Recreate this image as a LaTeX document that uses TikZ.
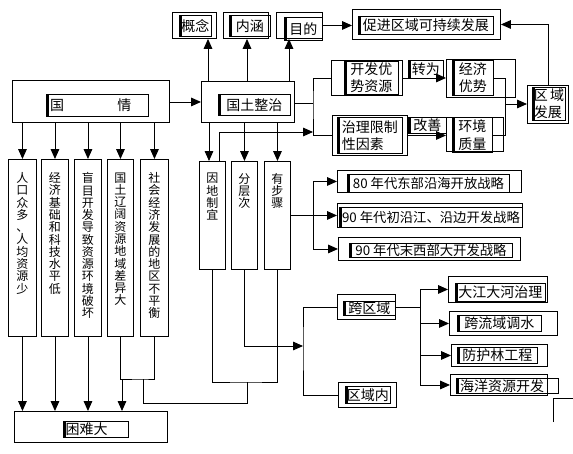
\documentclass[tikz,border=0pt]{standalone}
\usepackage{fontspec}
\setmainfont{Noto Sans CJK SC}
\usetikzlibrary{arrows.meta}
\tikzset{
>={Triangle[length=7.5pt,width=6.5pt]},
freccia/.style={->,line width=0.7pt},
linea/.style={line width=0.7pt},
sz/.style 2 args={minimum width=#1*0.75pt,minimum height=#2*0.75pt},
outer box/.style={draw,line width=0.7pt,inner sep=0pt,anchor=north west},
text box/.style={draw,line width=0.7pt,inner sep=0pt,anchor=north west,align=center,
  font=\fontsize{10.5}{13}\selectfont,
  path picture={\fill (path picture bounding box.north west) rectangle
    ([xshift=1.8pt]path picture bounding box.south west);}},
vert text/.style={align=center,inner sep=0pt,anchor=north,
  font=\fontsize{9}{9.2}\selectfont}}

\begin{document}
\begin{tikzpicture}[x=0.75pt,y=-0.75pt]
\useasboundingbox (0,0) rectangle (573,453);

      \node[outer box,sz={157}{42}] (gq) at (12,80) {};
      \node[text box,sz={102}{22}] (gqt) at (46,94) {国\hspace{40pt}情\hspace{10pt}};
      \node[outer box,sz={93}{41}] (gtzz) at (201,81) {};
      \node[text box,sz={72}{21}] (gtzzt) at (218,94) {国土整治};

      \node[outer box,sz={44}{26}] (gn) at (172,12) {};
      \node[text box,sz={32}{21}] (gnt) at (179,15) {概念};
      \node[outer box,sz={45}{26}] (nh) at (223,12) {};
      \node[text box,sz={41}{21}] (nht) at (229,15) {内涵};
      \node[outer box,sz={46}{26}] (md) at (276,12) {};
      \node[text box,sz={38}{23}] (mdt) at (284,17) {目的};
      \node[outer box,sz={148}{30}] (cj) at (352,9) {};
      \node[text box,sz={135}{18}] (cjt) at (358,16) {促进区域可持续发展};

      \node[outer box,sz={71}{35}] (kf) at (331,60) {};
      \node[text box,sz={54}{33},align=left] (kft) at (344,61) {开发优\\势资源};
      \node[text box,sz={35}{18}] (zw) at (408,60) {转为};
      \node[outer box,sz={69}{38}] (jj) at (446,59) {};
      \node[text box,sz={41}{35},align=left] (jjt) at (452,60) {经济\\优势};
      \node[outer box,sz={75}{40}] (zl) at (332,115) {};
      \node[text box,sz={65}{36},align=left] (zlt) at (337,117) {治理限制\\性因素};
      \node[text box,sz={38}{16}] (gs) at (408,117) {改善};
      \node[outer box,sz={57}{34}] (hj) at (446,117) {};
      \node[text box,sz={40}{35},align=left] (hjt) at (452,117) {环境\\质量};
      \node[outer box,sz={41}{38}] (qy) at (527,85) {};
      \node[text box,sz={33}{33},align=left] (qyt) at (532,87) {区\,域\\发展};

      \node[outer box,sz={28}{177}] (yy1) at (8,159) {};
      \node[outer box,sz={27}{177}] (yy2) at (41,159) {};
      \node[outer box,sz={27}{177}] (yy3) at (74,159) {};
      \node[outer box,sz={26}{177}] (yy4) at (107,159) {};
      \node[outer box,sz={28}{177}] (yy5) at (140,159) {};
      \node[vert text] (yy1t) at ([yshift=-10pt]yy1.north) {人\\口\\众\\多\\、\\人\\均\\资\\源\\少};
      \node[vert text] (yy2t) at ([yshift=-10pt]yy2.north) {经\\济\\基\\础\\和\\科\\技\\水\\平\\低};
      \node[vert text] (yy3t) at ([yshift=-10pt]yy3.north) {盲\\目\\开\\发\\导\\致\\资\\源\\环\\境\\破\\坏};
      \node[vert text] (yy4t) at ([yshift=-10pt]yy4.north) {国\\土\\辽\\阔\\资\\源\\地\\域\\差\\异\\大};
      \node[vert text] (yy5t) at ([yshift=-10pt]yy5.north) {社\\会\\经\\济\\发\\展\\的\\地\\区\\不\\平\\衡};

      \node[outer box,sz={153}{31}] (kn) at (14,411) {};
      \node[text box,sz={65}{16}] (knt) at (63,421) {困难大\hspace{14pt}};

      \node[outer box,sz={26}{108}] (ydzy) at (199,161) {};
      \node[outer box,sz={26}{108}] (fcc) at (231,161) {};
      \node[outer box,sz={26}{108}] (ybz) at (264,161) {};
      \node[vert text] (ydzyt) at ([yshift=-9pt]ydzy.north) {因\\地\\制\\宜};
      \node[vert text] (fcct) at ([yshift=-9pt]fcc.north) {分\\层\\次};
      \node[vert text] (ybzt) at ([yshift=-9pt]ybz.north) {有\\步\\骤};

      \node[outer box,sz={184}{22}] (s80) at (337,170) {};
      \node[text box,sz={162}{18},font=\fontsize{10}{12}\selectfont] (s80t) at (347,174) {80 年代东部沿海开放战略};
      \node[outer box,sz={185}{24}] (s90a) at (337,203) {};
      \node[text box,sz={183}{20},font=\fontsize{10}{12}\selectfont] (s90at) at (339,207) {90 年代初沿江、沿边开发战略};
      \node[outer box,sz={182}{23}] (s90b) at (338,237) {};
      \node[text box,sz={163}{14},font=\fontsize{10}{12}\selectfont] (s90bt) at (349,243) {90 年代末西部大开发战略};

      \node[outer box,sz={58}{25}] (kqy) at (337,294) {};
      \node[text box,sz={52}{14}] (kqyt) at (343,301) {跨区域};
      \node[outer box,sz={58}{25}] (qyn) at (338,382) {};
      \node[text box,sz={45}{17}] (qynt) at (345,386) {区域内};

      \node[outer box,sz={99}{26}] (dj) at (448,276) {};
      \node[text box,sz={90}{18}] (djt) at (455,283) {大江大河治理};
      \node[outer box,sz={108}{24}] (kly) at (449,311) {};
      \node[text box,sz={84}{16}] (klyt) at (457,315) {跨流域调水};
      \node[outer box,sz={96}{22}] (fhl) at (451,344) {};
      \node[text box,sz={80}{16}] (fhlt) at (457,347) {防护林工程};
      \node[outer box,sz={97}{21}] (hy) at (450,374) {};
      \node[text box,sz={102}{15}] (hyt) at (456,378) {海洋资源开发\hspace{8pt}};

      \coordinate (u1) at (208,0);
      \coordinate (u2) at (247,0);
      \coordinate (u3) at (289,0);
      \coordinate (d1) at (209,0);
      \coordinate (u4) at (219,132);
      \coordinate (b1) at (313,103);
      \coordinate (b2) at (313,132);
      \coordinate (b3) at (303,346);
      \coordinate (b4) at (420,307);
      \coordinate (b5) at (505,104);
      \coordinate (b6) at (313,215);
      \coordinate (j1) at (122,379);
      \coordinate (j2) at (143,379);
      \coordinate (j3) at (247,382);

      \draw[freccia] (gq.east |- gtzz) -- (gtzz.west);
      \foreach \n in {yy1,yy2,yy3,yy4,yy5}
        \draw[freccia] (gq.south -| \n) -- (\n.north);
      \foreach \n in {yy1,yy2,yy3}
        \draw[freccia] (\n.south) -- (kn.north -| \n);
      \draw[linea] (yy4.south) |- (j2) -| (yy5.south);
      \draw[freccia] (j1) -- (kn.north -| j1);
      \draw[linea] (j2) -- ++(0,24) -| (j3);
      \draw[linea] (ydzy.south) |- (j3) -| (ybz.south);

      \foreach \c/\n in {u1/gn,u2/nh,u3/md}
        \draw[freccia] (gtzz.north -| \c) -- (\n.south -| \c);
      \draw[freccia] (md.east) -- (cj.west |- md.east);
      \draw[freccia] (qy.north) |- (cj.east);

      \draw[linea] (gtzz.east |- b1) -- (b1);
      \draw[linea] (kf.west) -| (b1) |- (zl.west);
      \draw[freccia] (ydzy.north -| u4) -- (u4) -- (b2);
      \draw[freccia] (gtzz.south -| d1) -- (ydzy.north -| d1);
      \draw[freccia] (gtzz.south -| fcc) -- (fcc.north);
      \draw[freccia] (gtzz.south -| ybz) -- (ybz.north);

      \draw[freccia] (kf.east) -- (jj.west |- kf.east);
      \draw[freccia] (zl.east) -- (hj.west |- zl.east);
      \draw[linea] (jjt.east) -| (b5) |- (hjt.east);
      \draw[freccia] (b5) -- (qy.west |- b5);

      \draw[linea] (ybz.east |- b6) -- (b6);
      \foreach \n in {s80,s90a,s90b}
        \draw[freccia] (b6) |- (\n.west);

      \draw[freccia] (fcc.south) |- (b3);
      \draw[linea] (kqy.west) -| (b3) |- (qyn.west);
      \draw[linea] (kqy.east |- b4) -- (b4);
      \foreach \n in {dj,kly,fhl,hy}
        \draw[freccia] (b4) |- (\n.west);

      \draw[linea] (553,422) -- (553,398) -- (573,398);
\end{tikzpicture}
\end{document}
